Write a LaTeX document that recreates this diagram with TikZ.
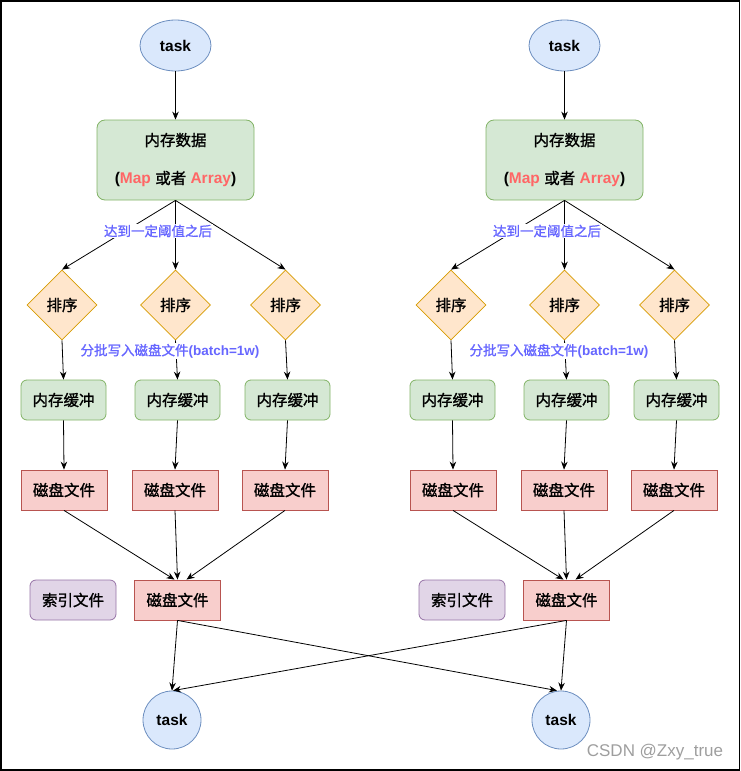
\documentclass[tikz,border=0pt]{standalone}
\usepackage{fontspec}
\setmainfont{Liberation Sans}
\newfontfamily\cjk[BoldFont={Noto Sans CJK SC}, BoldFeatures={FakeBold=1.2}]{Noto Sans CJK SC}
\usetikzlibrary{shapes.geometric, arrows.meta}
\definecolor{taskfill}{HTML}{DAE8FC}
\definecolor{taskline}{HTML}{6C8EBF}
\definecolor{memfill}{HTML}{D5E8D4}
\definecolor{memline}{HTML}{82B366}
\definecolor{sortfill}{HTML}{FFE6CC}
\definecolor{sortline}{HTML}{D79B00}
\definecolor{diskfill}{HTML}{F8CECC}
\definecolor{diskline}{HTML}{B85450}
\definecolor{idxfill}{HTML}{E1D5E7}
\definecolor{idxline}{HTML}{9673A6}
\definecolor{lblblue}{HTML}{6666FF}
\definecolor{keyred}{HTML}{FF6666}
\tikzset{every node/.style={font=\fontsize{15.5}{18}\selectfont\bfseries, inner sep=0pt, line width=0.8pt},
         task/.style={draw=taskline, fill=taskfill, ellipse, minimum width=71pt, minimum height=51pt},
         taskend/.style={draw=taskline, fill=taskfill, circle, minimum size=58pt},
         mem/.style={draw=memline, fill=memfill, rounded corners=8pt, minimum width=157pt, minimum height=80pt, align=center},
         sortd/.style={draw=sortline, fill=sortfill, diamond, minimum width=70pt, minimum height=70pt},
         buf/.style={draw=memline, fill=memfill, rounded corners=6pt, minimum width=85pt, minimum height=40pt},
         disk/.style={draw=diskline, fill=diskfill, minimum width=86pt, minimum height=40pt},
         idx/.style={draw=idxline, fill=idxfill, rounded corners=6pt, minimum width=86pt, minimum height=40pt},
         lbl/.style={fill=white, text=lblblue, inner sep=1pt, font=\fontsize{13.5}{16}\selectfont\bfseries},
         link/.style={->, line width=0.8pt},
        }

\begin{document}
\begin{tikzpicture}[x=1pt, y=-1pt, >={Stealth[length=8pt,width=6.5pt]}]
        \useasboundingbox (0,0) rectangle (741,771);
        \draw[line width=1.6pt] (1,1) rectangle (739.5,770);

        % left half
        \node[task](lt)at(175.5,45.5){task};
        \node[mem](lm)at(175.5,160){{\cjk 内存数据}\\[20pt]({\color{keyred}Map} {\cjk 或者} {\color{keyred}Array})};
        \draw[link](lt.south)--(lm.north);

        \node[sortd](ls1)at(62,305){\cjk 排序};
        \node[sortd](ls2)at(175.5,305){\cjk 排序};
        \node[sortd](ls3)at(285.5,305){\cjk 排序};
        \draw[link](lm.south)--(ls1.north);
        \draw[link](lm.south)--(ls2.north);
        \draw[link](lm.south)--(ls3.north);
        \node[lbl](lth)at(158,231){\cjk 达到一定阈值之后};

        \node[buf](lb1)at(63.5,400){\cjk 内存缓冲};
        \node[buf](lb2)at(177.5,400){\cjk 内存缓冲};
        \node[buf](lb3)at(287.5,400){\cjk 内存缓冲};
        \draw[link](ls1.south)--(lb1.north);
        \draw[link](ls2.south)--(lb2.north);
        \draw[link](ls3.south)--(lb3.north);
        \node[lbl](lba)at(170,351){{\cjk 分批写入磁盘文件}(batch=1w)};

        \node[disk](ld1)at(64,490){\cjk 磁盘文件};
        \node[disk](ld2)at(175,490){\cjk 磁盘文件};
        \node[disk](ld3)at(285,490){\cjk 磁盘文件};
        \draw[link](lb1.south)--(ld1.north);
        \draw[link](lb2.south)--(ld2.north);
        \draw[link](lb3.south)--(ld3.north);

        \node[idx](li)at(73,600){\cjk 索引文件};
        \node[disk](lf)at(177.5,600){\cjk 磁盘文件};
        \draw[link](ld1.south)--([xshift=-3pt]lf.north);
        \draw[link](ld2.south)--(lf.north);
        \draw[link](ld3.south)--([xshift=9pt]lf.north);

        \node[taskend](le)at(172,720){task};

        % right half
        \node[task](rt)at(564.5,45.5){task};
        \node[mem](rm)at(564.5,160){{\cjk 内存数据}\\[20pt]({\color{keyred}Map} {\cjk 或者} {\color{keyred}Array})};
        \draw[link](rt.south)--(rm.north);

        \node[sortd](rs1)at(451,305){\cjk 排序};
        \node[sortd](rs2)at(564.5,305){\cjk 排序};
        \node[sortd](rs3)at(674.5,305){\cjk 排序};
        \draw[link](rm.south)--(rs1.north);
        \draw[link](rm.south)--(rs2.north);
        \draw[link](rm.south)--(rs3.north);
        \node[lbl](rth)at(547,231){\cjk 达到一定阈值之后};

        \node[buf](rb1)at(452.5,400){\cjk 内存缓冲};
        \node[buf](rb2)at(566.5,400){\cjk 内存缓冲};
        \node[buf](rb3)at(676.5,400){\cjk 内存缓冲};
        \draw[link](rs1.south)--(rb1.north);
        \draw[link](rs2.south)--(rb2.north);
        \draw[link](rs3.south)--(rb3.north);
        \node[lbl](rba)at(559,351){{\cjk 分批写入磁盘文件}(batch=1w)};

        \node[disk](rd1)at(453,490){\cjk 磁盘文件};
        \node[disk](rd2)at(564,490){\cjk 磁盘文件};
        \node[disk](rd3)at(674,490){\cjk 磁盘文件};
        \draw[link](rb1.south)--(rd1.north);
        \draw[link](rb2.south)--(rd2.north);
        \draw[link](rb3.south)--(rd3.north);

        \node[idx](ri)at(462,600){\cjk 索引文件};
        \node[disk](rf)at(566.5,600){\cjk 磁盘文件};
        \draw[link](rd1.south)--([xshift=-3pt]rf.north);
        \draw[link](rd2.south)--(rf.north);
        \draw[link](rd3.south)--([xshift=9pt]rf.north);

        \node[taskend](re)at(561,720){task};

        % crossing reads
        \draw[link](lf.south)--(le.north);
        \draw[link](lf.south)--([xshift=-4pt]re.north);
        \draw[link](rf.south)--(re.north);
        \draw[link](rf.south)--([xshift=1pt]le.north);

        \node[text=black!38, font=\fontsize{17}{20}\selectfont](wm)at(655,752){CSDN @Zxy\_true};
    \end{tikzpicture}
\end{document}
